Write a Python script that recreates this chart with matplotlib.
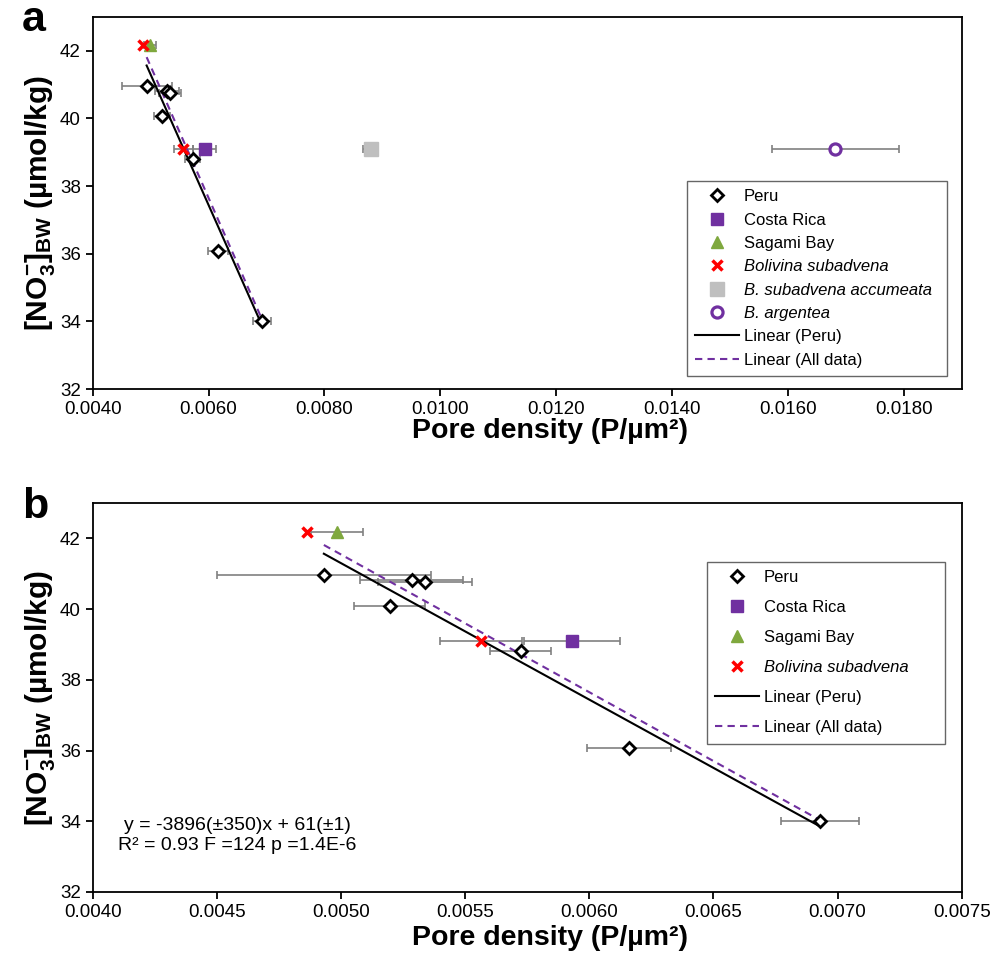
import matplotlib
matplotlib.use('Agg')
import matplotlib.pyplot as plt
import numpy as np

plt.rcParams['font.family'] = ['Liberation Sans', 'DejaVu Sans']
plt.rcParams['mathtext.fontset'] = 'custom'
plt.rcParams['mathtext.rm'] = 'Liberation Sans:bold'
plt.rcParams['mathtext.it'] = 'Liberation Sans:bold'
plt.rcParams['mathtext.bf'] = 'Liberation Sans:bold'

# ---------------- data ----------------
peru_x = [0.004931, 0.005285, 0.005338, 0.005197, 0.005724, 0.006159, 0.006928]
peru_y = [40.96, 40.81, 40.76, 40.08, 38.81, 36.07, 34.00]
peru_xerr = [0.00043, 0.000207, 0.00019, 0.000143, 0.000123, 0.000169, 0.000157]

costa_x = [0.00593]
costa_y = [39.09]
costa_xerr = [0.000193]

sagami_x = [0.004983]
sagami_y = [42.17]
sagami_xerr = [0.000104]

boli_x = [0.004863, 0.005563]
boli_y = [42.17, 39.09]
boli_xerr = [0.0, 0.000165]

accu_x = [0.0088]
accu_y = [39.09]
accu_xerr = [0.00013]

arg_x = [0.01682]
arg_y = [39.09]
arg_xerr = [0.0011]

xticks_a = [0.004, 0.006, 0.008, 0.010, 0.012, 0.014, 0.016, 0.018]
xticks_b = [0.0040, 0.0045, 0.0050, 0.0055, 0.0060, 0.0065, 0.0070, 0.0075]
yticks = [32, 34, 36, 38, 40, 42]

eq_text = "y = -3896(\u00b1350)x + 61(\u00b11)\nR\u00b2 = 0.93 F =124 p =1.4E-6"

# ---------------- styling ----------------
PURPLE = '#7030A0'
GREEN = '#7FA83E'
RED = '#FF0000'
GREY = '#BFBFBF'
ERR = '#808080'

fig = plt.figure(figsize=(10, 9.61), dpi=100)
W, H = 1000, 961
ax_a = fig.add_axes([92.7 / W, 1 - 389 / H, 869 / W, 372 / H])
ax_b = fig.add_axes([92.7 / W, 1 - 892 / H, 869 / W, 389 / H])

# fits (Excel-style linear trendlines)
pf = np.polyfit(peru_x, peru_y, 1)
all_x = peru_x + costa_x + sagami_x + boli_x
all_y = peru_y + costa_y + sagami_y + boli_y
af = np.polyfit(all_x, all_y, 1)
fx = np.array([min(peru_x), max(peru_x)])


def draw(ax, extras, legend_box, lspacing, xlab_y):
    ekw = dict(fmt='none', ecolor=ERR, elinewidth=1.2, capsize=2.6, capthick=1.2, zorder=2)
    ax.errorbar(peru_x, peru_y, xerr=peru_xerr, **ekw)
    ax.errorbar(costa_x, costa_y, xerr=costa_xerr, **ekw)
    ax.errorbar(sagami_x, sagami_y, xerr=sagami_xerr, **ekw)
    ax.errorbar(boli_x[1:], boli_y[1:], xerr=boli_xerr[1:], **ekw)
    if extras:
        ax.errorbar(accu_x, accu_y, xerr=accu_xerr, **ekw)
        ax.errorbar(arg_x, arg_y, xerr=arg_xerr, **ekw)

    handles = []
    h, = ax.plot(peru_x, peru_y, ls='none', marker='D', ms=6.5, mfc='white', mec='black',
                 mew=2.0, zorder=5, label='Peru')
    handles.append(h)
    h, = ax.plot(costa_x, costa_y, ls='none', marker='s', ms=9, mfc=PURPLE, mec=PURPLE,
                 zorder=5, label='Costa Rica')
    handles.append(h)
    h, = ax.plot(sagami_x, sagami_y, ls='none', marker='^', ms=9, mfc=GREEN, mec=GREEN,
                 zorder=5, label='Sagami Bay')
    handles.append(h)
    h, = ax.plot(boli_x, boli_y, ls='none', marker='x', ms=7.5, mec=RED, mew=2.5,
                 zorder=6, label='Bolivina subadvena')
    handles.append(h)
    if extras:
        h, = ax.plot(accu_x, accu_y, ls='none', marker='s', ms=10.5, mfc=GREY, mec=GREY,
                     zorder=5, label='B. subadvena accumeata')
        handles.append(h)
        h, = ax.plot(arg_x, arg_y, ls='none', marker='o', ms=8, mfc='white', mec=PURPLE,
                     mew=2.3, zorder=5, label='B. argentea')
        handles.append(h)
    h, = ax.plot(fx, np.polyval(pf, fx), color='black', lw=1.5, zorder=3, label='Linear (Peru)')
    handles.append(h)
    h, = ax.plot(fx, np.polyval(af, fx), color=PURPLE, lw=1.5, ls=(0, (3.5, 2.5)), zorder=3,
                 label='Linear (All data)')
    handles.append(h)

    x0, y0, w = legend_box
    leg = ax.legend(handles=handles, loc='upper left', mode='expand',
                    bbox_to_anchor=(x0 / W, 1 - y0 / H, w / W, 0.0001),
                    bbox_transform=fig.transFigure, fontsize=12, frameon=True,
                    fancybox=False, edgecolor='#404040', handlelength=2.6,
                    labelspacing=lspacing, borderpad=0.5, handletextpad=0.3,
                    borderaxespad=0)
    leg.get_frame().set_linewidth(1.0)
    for t in leg.get_texts():
        if t.get_text() in ('Bolivina subadvena', 'B. subadvena accumeata', 'B. argentea'):
            t.set_style('italic')

    ax.set_ylim(32, 43)
    ax.set_yticks(yticks)
    for s in ax.spines.values():
        s.set_linewidth(1.3)
        s.set_color('black')
    ax.tick_params(direction='out', length=5, width=1.3, labelsize=13.5, top=False, right=False)
    ax.set_xlabel('Pore density (P/\u00b5m\u00b2)', fontsize=20.5, fontweight='bold')
    ax.xaxis.set_label_coords(0.526, xlab_y)
    ax.set_ylabel('[NO$_{3}^{-}$]$_{\\mathregular{BW}}$ (\u00b5mol/kg)', fontsize=21.5,
                  fontweight='bold', labelpad=2)


draw(ax_a, True, (687, 181, 260), 0.5, -0.078)
ax_a.set_xlim(0.004, 0.019)
ax_a.set_xticks(xticks_a)
ax_a.set_xticklabels([f'{v:.4f}' for v in xticks_a])

draw(ax_b, False, (707, 562, 238), 0.9, -0.085)
ax_b.set_xlim(0.004, 0.0075)
ax_b.set_xticks(xticks_b)
ax_b.set_xticklabels([f'{v:.4f}' for v in xticks_b])
ax_b.text(0.166, 0.145, eq_text, transform=ax_b.transAxes, ha='center', va='center',
          fontsize=14, linespacing=1.2)

fig.text(22 / W, 1 - 20 / H, 'a', fontsize=31, fontweight='bold', va='center', ha='left')
fig.text(22 / W, 1 - 507 / H, 'b', fontsize=31, fontweight='bold', va='center', ha='left')

fig.savefig('out.png', dpi=100)
